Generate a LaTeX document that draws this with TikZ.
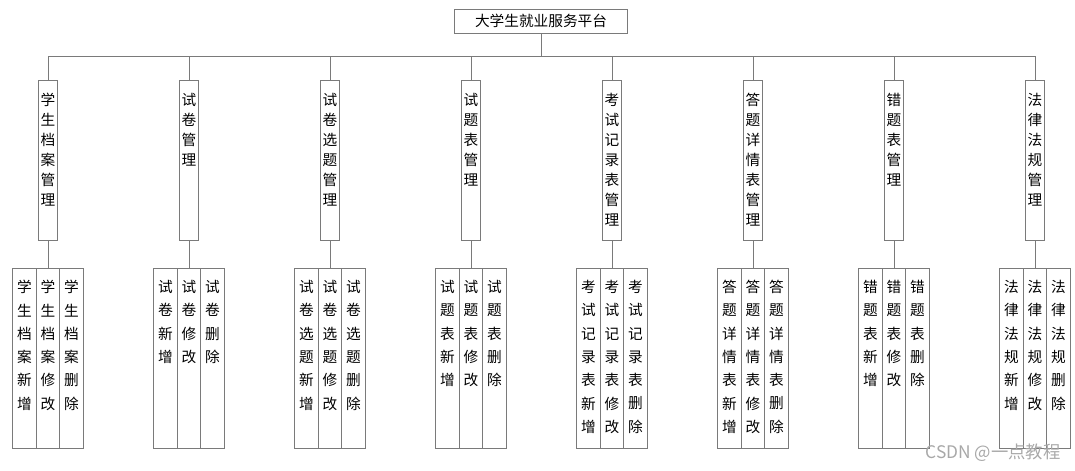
\documentclass[tikz,border=0pt]{standalone}
\usepackage{fontspec}
\setmainfont{Noto Sans CJK SC}
\definecolor{linegray}{HTML}{7A7A7A}
\definecolor{wmgray}{HTML}{A8A8A8}
\newcommand\vlabel[5]{% name, x, y0, dy, list of characters
  \foreach \c [count=\i from 0] in {#5} \node[chr] (#1-\i) at (#2, #3+\i*#4) {\c};}
\newcommand\module[3]{% index, x, prefix characters
  \coordinate (b#1) at (#2,56);
  \node[box, minimum width=14.25pt, minimum height=120pt, anchor=north] (m#1) at (#2,80) {};
  \draw[link] (b#1) -- (m#1.north);
  \node[box, minimum width=17.625pt, minimum height=135pt, anchor=north] (sa#1) at (#2-23.5,268) {};
  \node[box, minimum width=17.625pt, minimum height=135pt, anchor=north] (sb#1) at (#2,268) {};
  \node[box, minimum width=17.625pt, minimum height=135pt, anchor=north] (sc#1) at (#2+23.5,268) {};
  \draw[link] (m#1.south) -- (sb#1.north);
  \vlabel{mt#1}{#2}{100}{20}{#3,管,理}
  \vlabel{sat#1}{#2-23.5}{287}{23.3}{#3,新,增}
  \vlabel{sbt#1}{#2}{287}{23.3}{#3,修,改}
  \vlabel{sct#1}{#2+23.5}{287}{23.3}{#3,删,除}
}
\begin{document}
\begin{tikzpicture}[x=0.75pt,y=-0.75pt,line width=0.75pt,
  box/.style={draw=linegray, inner sep=0pt, fill=white},
  chr/.style={font=\fontsize{11pt}{11pt}\selectfont, inner sep=0pt, text=black},
  link/.style={draw=linegray}]
\useasboundingbox (0,0) rectangle (1075,471);
\node[box, minimum width=129.75pt, minimum height=18pt, font=\fontsize{11pt}{11pt}\selectfont] (root) at (541,21) {大学生就业服务平台};
\coordinate (busL) at (48,56);
\coordinate (busR) at (1035,56);
\draw[link] (root.south) -- (root.south |- busL);
\draw[link] (busL) -- (busR);
\module{1}{48}{学,生,档,案}
\module{2}{189}{试,卷}
\module{3}{330}{试,卷,选,题}
\module{4}{471}{试,题,表}
\module{5}{612}{考,试,记,录,表}
\module{6}{753}{答,题,详,情,表}
\module{7}{894}{错,题,表}
\module{8}{1035}{法,律,法,规}
\node[font=\fontsize{13pt}{13pt}\selectfont, text=wmgray, anchor=east, inner sep=0pt] (wm) at (1061,453) {CSDN @一点教程};
\end{tikzpicture}
\end{document}
